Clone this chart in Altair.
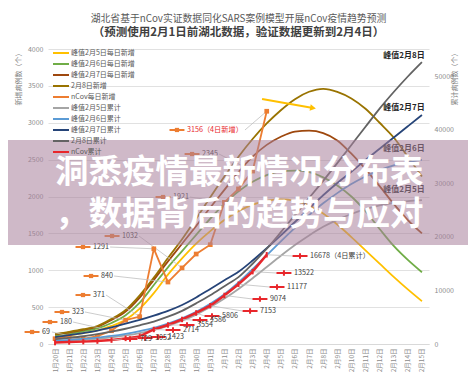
import altair as alt
import pandas as pd

dates = ["1月20日", "1月21日", "1月22日", "1月23日", "1月24日", "1月25日", "1月26日",
         "1月27日", "1月28日", "1月29日", "1月30日", "1月31日", "2月1日", "2月2日",
         "2月3日", "2月4日", "2月5日", "2月6日", "2月7日", "2月8日", "2月9日",
         "2月10日", "2月11日", "2月12日", "2月13日", "2月14日", "2月15日"]

series_names = ["峰值2月5日每日新增", "峰值2月6日每日新增", "峰值2月7日每日新增", "2月8日新增",
                "nCov每日新增", "峰值2月5日累计", "峰值2月6日累计", "峰值2月7日累计",
                "2月8日累计", "nCov累计"]
series_colors = ["#ffc000", "#70ad47", "#9e480e", "#997300", "#ed7d31",
                 "#a5a5a5", "#5b9bd5", "#264478", "#636363", "#e8262b"]

# daily forecasts (left axis)
daily_peak_feb5 = [95, 118, 148, 185, 245, 330, 480, 690, 940, 1160, 1360, 1530, 1680, 1800,
                   1890, 1940, 1960, 1940, 1880, 1770, 1620, 1450, 1270, 1090, 910, 740, 580]
daily_peak_feb6 = [115, 140, 172, 212, 285, 390, 560, 800, 1040, 1260, 1480, 1700, 1900, 2070,
                   2200, 2290, 2340, 2350, 2330, 2260, 2150, 2000, 1800, 1560, 1330, 1140, 973]
daily_peak_feb7 = [130, 158, 192, 235, 325, 440, 630, 870, 1120, 1360, 1600, 1850, 2090, 2330,
                   2540, 2700, 2810, 2880, 2892, 2860, 2760, 2580, 2370, 2140, 1900, 1680, 1500]
daily_feb8 = [135, 165, 200, 244, 340, 461, 660, 900, 1166, 1420, 1700, 1990, 2270, 2540,
              2780, 2990, 3170, 3320, 3420, 3460, 3420, 3330, 3190, 3000, 2800, 2540, 2270]
ncov_daily = [72, 105, 69, 105, 180, 323, 371, 1291, 840, 1032, 1220, 1347, 1921, 2103, 2345, 3156]

# cumulative forecasts (right axis)
cum_peak_feb5 = [500, 620, 780, 980, 1250, 1600, 2050, 2650, 3400, 4350, 5500, 6900, 8500, 10300,
                 12300, 14400, 16500, 18500, 20300, 21900, 23200, 24300, 25200, 25900, 26400, 26700, 26900]
cum_peak_feb6 = [600, 750, 950, 1200, 1500, 1900, 2400, 3000, 3800, 4800, 6000, 7500, 9300, 11500,
                 14000, 16600, 19200, 21700, 24100, 26300, 28200, 29900, 31300, 32500, 33400, 34000, 34400]
cum_peak_feb7 = [1300, 1650, 2050, 2500, 3100, 3800, 4500, 5300, 6200, 7300, 8700, 10300, 11900, 13500,
                 15600, 17900, 20300, 22800, 25300, 27800, 30100, 32200, 34400, 36500, 38600, 40700, 42800]
cum_feb8 = [900, 1150, 1450, 1850, 2300, 2850, 3500, 4200, 5100, 6200, 7600, 9100, 10800, 12500,
            15000, 17800, 20900, 24100, 27300, 30500, 33800, 37200, 40600, 44000, 47100, 50000, 52700]
ncov_cum = [270, 375, 444, 549, 729, 1052, 1423, 2714, 3554, 4586, 5806, 7153, 9074, 11177, 13522, 16678]

# data-label callouts
daily_label_text = ["69", "180", "323", "371", "840", "1291", "1032", "1921", "2345", "3156（4日新增）"]
daily_label_day = [2, 4, 5, 6, 8, 7, 9, 12, 14, 15]
daily_label_x = [-1.63, -0.36, 0.49, 1.98, 2.55, 1.98, 4.04, 7.65, 9.71, 8.64]
daily_label_y = [163, 298, 434, 664, 922, 1315, 1464, 1993, 2576, 2902]
daily_leader_x = [-0.22, 1.27, 2.12, 3.61, 4.18, 3.9, 5.95, 9.56, 11.62, 13.46]

cum_label_text = ["729", "1052", "1423", "2714", "3554", "4586", "5806", "7153", "9074",
                  "11177", "13522", "16678（4日累计）"]
cum_label_day = [4, 5, 6, 7, 8, 9, 10, 11, 12, 13, 14, 15]
cum_label_x = [5.31, 6.38, 7.3, 8.36, 9.35, 10.27, 11.12, 13.82, 14.52, 15.73, 16.22, 17.36]
cum_label_y = [935, 1121, 1308, 2617, 3551, 4486, 5234, 6168, 8411, 10654, 13271, 16449]

peak_label_text = ["峰值2月8日", "峰值2月7日", "峰值2月6日", "峰值2月5日"]
peak_label_y = [53830, 44110, 36450, 28790]
peak_label_x = [26.2, 26.2, 26.2, 26.2]

arrow_x = [14.67, 18.28]
arrow_y = [3322, 3200]

banner_lines = ["洞悉疫情最新情况分布表", "，数据背后的趋势与应对"]

title_text = "湖北省基于nCov实证数据同化SARS案例模型开展nCov疫情趋势预测"
subtitle_text = "（预测使用2月1日前湖北数据，验证数据更新到2月4日）"

FONT = "Noto Sans CJK SC"

# ---------- tables ----------
def long_df(names, lists):
    rows = []
    for n, vals in zip(names, lists):
        for i, v in enumerate(vals):
            rows.append({"series": n, "i": i, "v": v})
    return pd.DataFrame(rows)

df_fd = long_df(series_names[0:4], [daily_peak_feb5, daily_peak_feb6, daily_peak_feb7, daily_feb8])
df_nd = long_df([series_names[4]], [ncov_daily])
df_fc = long_df(series_names[5:9], [cum_peak_feb5, cum_peak_feb6, cum_peak_feb7, cum_feb8])
df_nc = long_df([series_names[9]], [ncov_cum])

KEY = 0.53
df_ld = pd.DataFrame({
    "text": daily_label_text, "kx": daily_label_x, "ky": daily_label_y,
    "lx": daily_leader_x, "px": daily_label_day,
    "pv": [ncov_daily[d] for d in daily_label_day],
})
df_ld["k1"] = df_ld["kx"] - KEY
df_ld["k2"] = df_ld["kx"] + KEY

df_lc = pd.DataFrame({
    "text": cum_label_text, "kx": cum_label_x, "ky": cum_label_y,
    "px": cum_label_day, "pv": [ncov_cum[d] for d in cum_label_day],
})
df_lc["k1"] = df_lc["kx"] - KEY
df_lc["k2"] = df_lc["kx"] + KEY

df_peak = pd.DataFrame({"text": peak_label_text, "x": peak_label_x, "y": peak_label_y})
df_arrow = pd.DataFrame({"x": arrow_x, "y": arrow_y})
df_head = df_arrow.tail(1)
df_b1 = pd.DataFrame({"t": [banner_lines[0]]})
df_b2 = pd.DataFrame({"t": [banner_lines[1]]})
df_one = pd.DataFrame({"a": [0]})

# ---------- scales / axes ----------
label_expr = "[" + ",".join("'" + d + "'" for d in dates) + "][datum.value]"
xscale = alt.Scale(domain=[-0.5, len(dates) - 0.5], nice=False, zero=False)
xaxis = alt.Axis(values=list(range(len(dates))), labelExpr=label_expr, labelAngle=270,
                 labelFontSize=6.5, labelColor="#8c8c8c", ticks=False, grid=False,
                 domain=True, domainColor="#d9d9d9", title=None, labelPadding=4)

ylscale = alt.Scale(domain=[0, 4000], nice=False)
ylaxis = alt.Axis(values=list(range(0, 4001, 500)), format="d", grid=True,
                  gridColor="#d9d9d9", gridWidth=0.8, domain=False, ticks=False,
                  labelFontSize=7, labelColor="#8c8c8c", labelPadding=5,
                  title="新增病例数（个）", titleFontSize=7, titleColor="#7f7f7f",
                  titleFontWeight="normal", titleAngle=270, titleAnchor="end", titlePadding=6)

yrscale = alt.Scale(domain=[0, 55140], nice=False)
yraxis = alt.Axis(orient="right", values=list(range(0, 50001, 10000)), format="d", grid=False,
                  domain=False, ticks=False, labelFontSize=7, labelColor="#8c8c8c", labelPadding=5,
                  title="累计病例数（个）", titleFontSize=7, titleColor="#7f7f7f",
                  titleFontWeight="normal", titleAngle=270, titleAnchor="end", titlePadding=4)


def X(f):
    return alt.X(f, type="quantitative", scale=xscale, axis=xaxis)


def YL(f):
    return alt.Y(f, type="quantitative", scale=ylscale, axis=ylaxis)


def YR(f):
    return alt.Y(f, type="quantitative", scale=yrscale, axis=yraxis)


legend = alt.Legend(orient="none", legendX=6, legendY=-3, title=None, padding=0,
                    symbolType="M-1.35,0L1.35,0", symbolSize=140, symbolStrokeWidth=2,
                    labelFontSize=7, labelColor="#595959", labelFont=FONT,
                    rowPadding=0, labelOffset=3)
C = alt.Color("series:N", scale=alt.Scale(domain=series_names, range=series_colors), legend=legend)

# ---------- left (daily) ----------
l_fc = alt.Chart(df_fd).mark_line(strokeWidth=1.8, interpolate="monotone").encode(
    x=X("i"), y=YL("v"), color=C)
l_nd = alt.Chart(df_nd).mark_line(strokeWidth=1.8).encode(x=X("i"), y=YL("v"), color=C)
l_pts = alt.Chart(df_nd).mark_point(shape="square", filled=True, size=22, opacity=1,
                                    color="#ed7d31").encode(x=X("i"), y=YL("v"))
l_lead = alt.Chart(df_ld).mark_rule(color="#bfbfbf", strokeWidth=0.8).encode(
    x=X("lx"), y=YL("ky"), x2=alt.X2("px"), y2=alt.Y2("pv"))
l_key = alt.Chart(df_ld).mark_rule(color="#ed7d31", strokeWidth=2).encode(
    x=X("k1"), x2=alt.X2("k2"), y=YL("ky"))
l_keyp = alt.Chart(df_ld).mark_point(shape="square", filled=True, size=18, opacity=1,
                                     color="#ed7d31").encode(x=X("kx"), y=YL("ky"))
l_txt = alt.Chart(df_ld).mark_text(align="left", baseline="middle", dx=10, fontSize=7.2,
                                   font=FONT).encode(
    x=X("kx"), y=YL("ky"), text="text:N",
    color=alt.condition("indexof(datum.text, '新增') >= 0", alt.value("#e8262b"), alt.value("#404040")))
l_arrow = alt.Chart(df_arrow).mark_line(color="#ffc000", strokeWidth=2).encode(x=X("x"), y=YL("y"))
l_head = alt.Chart(df_head).mark_point(shape="triangle-right", filled=True, size=45, angle=10,
                                       opacity=1, color="#ffc000").encode(x=X("x"), y=YL("y"))

left = alt.layer(l_fc, l_nd, l_lead, l_pts, l_key, l_keyp, l_txt, l_arrow, l_head)

# ---------- right (cumulative) ----------
r_fc = alt.Chart(df_fc).mark_line(strokeWidth=1.8, interpolate="monotone").encode(
    x=X("i"), y=YR("v"), color=C)
r_nc = alt.Chart(df_nc).mark_line(strokeWidth=2.5).encode(x=X("i"), y=YR("v"), color=C)
r_pts = alt.Chart(df_nc).mark_point(shape="M0,-1L0,1", filled=False, size=30, strokeWidth=2,
                                    opacity=1, color="#e8262b").encode(x=X("i"), y=YR("v"))
r_lead = alt.Chart(df_lc).mark_rule(color="#bfbfbf", strokeWidth=0.8).encode(
    x=X("k1"), y=YR("ky"), x2=alt.X2("px"), y2=alt.Y2("pv"))
r_key = alt.Chart(df_lc).mark_rule(color="#e8262b", strokeWidth=2).encode(
    x=X("k1"), x2=alt.X2("k2"), y=YR("ky"))
r_keyp = alt.Chart(df_lc).mark_point(shape="M0,-1L0,1", filled=False, size=30, strokeWidth=2,
                                     opacity=1, color="#e8262b").encode(x=X("kx"), y=YR("ky"))
r_txt = alt.Chart(df_lc).mark_text(align="left", baseline="middle", dx=10, fontSize=7.2,
                                   color="#404040", font=FONT).encode(
    x=X("kx"), y=YR("ky"), text="text:N")
r_peak = alt.Chart(df_peak).mark_text(align="right", baseline="middle", fontSize=8,
                                      fontWeight="bold", color="#262626", font=FONT).encode(
    x=X("x"), y=YR("y"), text="text:N")

banner = alt.Chart(df_one).mark_rect(fill="#a87f9b", opacity=0.55).encode(
    x=alt.value(-48), x2=alt.value(428), y=alt.value(91), y2=alt.value(196))
b1 = alt.Chart(df_b1).mark_text(align="left", baseline="middle", fontSize=33.5, fontWeight="bold",
                                color="white", font=FONT).encode(
    x=alt.value(7), y=alt.value(124), text="t:N")
b2 = alt.Chart(df_b2).mark_text(align="left", baseline="middle", fontSize=33.5, fontWeight="bold",
                                color="white", font=FONT).encode(
    x=alt.value(7), y=alt.value(166), text="t:N")

right = alt.layer(r_fc, r_nc, r_lead, r_pts, r_key, r_keyp, r_txt, r_peak, banner, b1, b2)

chart = alt.layer(left, right).resolve_scale(y="independent").properties(
    width=381, height=295,
    padding={"left": 40, "top": 41, "right": 39, "bottom": 34},
    autosize=alt.AutoSizeParams(type="none"),
    title=alt.TitleParams(text=title_text, subtitle="　　　" + subtitle_text,
                          fontSize=9.8, fontWeight="normal", color="#595959", font=FONT,
                          subtitleFontSize=11.5, subtitleFontWeight="bold",
                          subtitleColor="#404040", subtitleFont=FONT,
                          anchor="middle", offset=7, subtitlePadding=3),
).configure(font=FONT).configure_view(stroke=None)

chart.save("out.html", embed_options={"renderer": "svg", "actions": False})
